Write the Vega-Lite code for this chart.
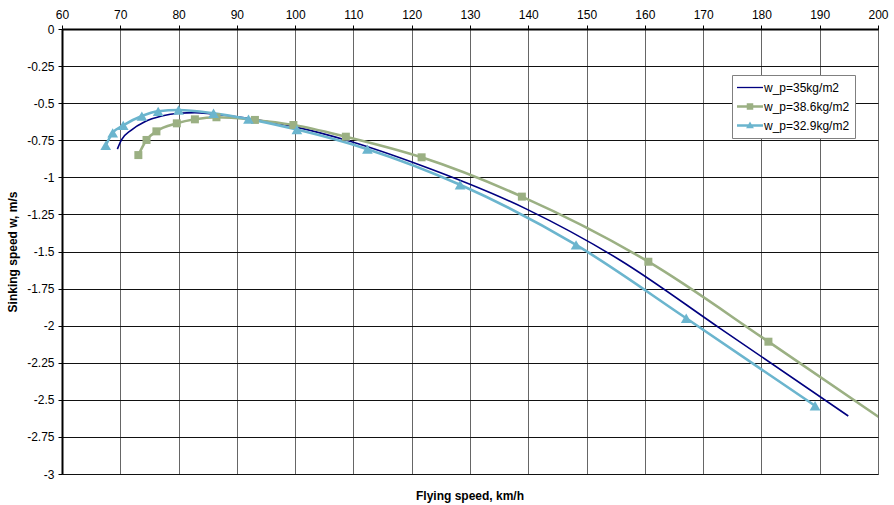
{
  "$schema": "https://vega.github.io/schema/vega-lite/v6.json",
  "width": 816,
  "height": 445,
  "autosize": {"type": "none"},
  "padding": {"left": 62, "top": 29, "right": 16, "bottom": 31},
  "background": "white",
  "config": {
    "font": "Liberation Sans",
    "view": {"stroke": "#888", "strokeWidth": 1}
  },
  "title": {
    "text": "Flying speed, km/h",
    "orient": "bottom",
    "anchor": "middle",
    "frame": "group",
    "baseline": "middle",
    "offset": 16,
    "fontSize": 12,
    "fontWeight": "bold",
    "font": "Liberation Sans",
    "color": "#000"
  },
  "data": {
    "values": [
      {"series": "w_p=35kg/m2", "speed": 69.5, "sink": -0.81},
      {"series": "w_p=35kg/m2", "speed": 70.2, "sink": -0.748},
      {"series": "w_p=35kg/m2", "speed": 71.9, "sink": -0.681},
      {"series": "w_p=35kg/m2", "speed": 74.2, "sink": -0.625},
      {"series": "w_p=35kg/m2", "speed": 77.1, "sink": -0.587},
      {"series": "w_p=35kg/m2", "speed": 80, "sink": -0.568},
      {"series": "w_p=35kg/m2", "speed": 82.8, "sink": -0.564},
      {"series": "w_p=35kg/m2", "speed": 85.7, "sink": -0.573},
      {"series": "w_p=35kg/m2", "speed": 90, "sink": -0.592},
      {"series": "w_p=35kg/m2", "speed": 95, "sink": -0.622},
      {"series": "w_p=35kg/m2", "speed": 100, "sink": -0.66},
      {"series": "w_p=35kg/m2", "speed": 109.4, "sink": -0.757},
      {"series": "w_p=35kg/m2", "speed": 121.4, "sink": -0.917},
      {"series": "w_p=35kg/m2", "speed": 139.8, "sink": -1.216},
      {"series": "w_p=35kg/m2", "speed": 155.7, "sink": -1.557},
      {"series": "w_p=35kg/m2", "speed": 172.9, "sink": -2.018},
      {"series": "w_p=35kg/m2", "speed": 194.9, "sink": -2.609},
      {"series": "w_p=38.6kg/m2", "speed": 73.1, "sink": -0.85},
      {"series": "w_p=38.6kg/m2", "speed": 74.5, "sink": -0.748},
      {"series": "w_p=38.6kg/m2", "speed": 76.2, "sink": -0.69},
      {"series": "w_p=38.6kg/m2", "speed": 79.7, "sink": -0.636},
      {"series": "w_p=38.6kg/m2", "speed": 82.8, "sink": -0.609},
      {"series": "w_p=38.6kg/m2", "speed": 86.5, "sink": -0.595},
      {"series": "w_p=38.6kg/m2", "speed": 93.1, "sink": -0.613},
      {"series": "w_p=38.6kg/m2", "speed": 99.7, "sink": -0.647},
      {"series": "w_p=38.6kg/m2", "speed": 108.7, "sink": -0.726},
      {"series": "w_p=38.6kg/m2", "speed": 121.7, "sink": -0.865},
      {"series": "w_p=38.6kg/m2", "speed": 138.9, "sink": -1.13},
      {"series": "w_p=38.6kg/m2", "speed": 160.6, "sink": -1.569},
      {"series": "w_p=38.6kg/m2", "speed": 181.2, "sink": -2.108},
      {"series": "w_p=38.6kg/m2", "speed": 204, "sink": -2.72},
      {"series": "w_p=32.9kg/m2", "speed": 67.5, "sink": -0.785},
      {"series": "w_p=32.9kg/m2", "speed": 68.7, "sink": -0.7},
      {"series": "w_p=32.9kg/m2", "speed": 70.5, "sink": -0.65},
      {"series": "w_p=32.9kg/m2", "speed": 73.7, "sink": -0.587},
      {"series": "w_p=32.9kg/m2", "speed": 76.5, "sink": -0.555},
      {"series": "w_p=32.9kg/m2", "speed": 80, "sink": -0.546},
      {"series": "w_p=32.9kg/m2", "speed": 86, "sink": -0.568},
      {"series": "w_p=32.9kg/m2", "speed": 92, "sink": -0.607},
      {"series": "w_p=32.9kg/m2", "speed": 100.3, "sink": -0.678},
      {"series": "w_p=32.9kg/m2", "speed": 112.4, "sink": -0.81},
      {"series": "w_p=32.9kg/m2", "speed": 128.3, "sink": -1.05},
      {"series": "w_p=32.9kg/m2", "speed": 148.2, "sink": -1.456},
      {"series": "w_p=32.9kg/m2", "speed": 167.1, "sink": -1.95},
      {"series": "w_p=32.9kg/m2", "speed": 189.2, "sink": -2.54}
    ]
  },
  "encoding": {
    "x": {
      "field": "speed",
      "type": "quantitative",
      "scale": {"domain": [60, 200], "nice": false, "zero": false},
      "axis": {
        "orient": "top",
        "values": [60, 70, 80, 90, 100, 110, 120, 130, 140, 150, 160, 170, 180, 190, 200],
        "title": null,
        "grid": true,
        "gridColor": "#666",
        "gridWidth": 1,
        "domainColor": "#000",
        "domainWidth": 2,
        "tickColor": "#000",
        "tickSize": 4,
        "labelPadding": 4,
        "labelFontSize": 12,
        "labelFont": "Liberation Sans",
        "labelColor": "#000",
        "labelFlush": false,
        "labelOverlap": false,
        "labelExpr": "'' + datum.value"
      }
    },
    "y": {
      "field": "sink",
      "type": "quantitative",
      "scale": {"domain": [-3, 0], "nice": false, "zero": false},
      "axis": {
        "values": [0, -0.25, -0.5, -0.75, -1, -1.25, -1.5, -1.75, -2, -2.25, -2.5, -2.75, -3],
        "title": "Sinking speed w, m/s",
        "titleFontSize": 12,
        "titleFontWeight": "bold",
        "titleFont": "Liberation Sans",
        "titleColor": "#000",
        "titlePadding": 7,
        "grid": true,
        "gridColor": "#111",
        "gridWidth": 1,
        "domainColor": "#000",
        "domainWidth": 2,
        "tickColor": "#000",
        "tickSize": 4,
        "labelPadding": 4,
        "labelFontSize": 12,
        "labelFont": "Liberation Sans",
        "labelColor": "#000",
        "labelFlush": false,
        "labelOverlap": false,
        "labelExpr": "'' + datum.value"
      }
    },
    "color": {
      "field": "series",
      "type": "nominal",
      "scale": {
        "domain": ["w_p=35kg/m2", "w_p=38.6kg/m2", "w_p=32.9kg/m2"],
        "range": ["#000080", "#9BB083", "#6BB5CE"]
      },
      "legend": {
        "title": null,
        "orient": "none",
        "legendX": 670,
        "legendY": 46,
        "direction": "vertical",
        "strokeColor": "#808080",
        "fillColor": "white",
        "padding": 5,
        "labelFontSize": 12,
        "labelFont": "Liberation Sans",
        "labelColor": "#000",
        "labelOffset": 1,
        "symbolSize": 676,
        "clipHeight": 15,
        "rowPadding": 4,
        "encode": {
          "symbols": {
            "update": {
              "shape": {"signal": "datum.value === 'w_p=35kg/m2' ? 'M-1,-0.05H1V0.05H-1Z' : datum.value === 'w_p=38.6kg/m2' ? 'M-1,-0.09H1V0.09H-1Z M-0.25,-0.25H0.25V0.25H-0.25Z' : 'M-1,-0.09H1V0.09H-1Z M0,-0.3L0.3,0.22L-0.3,0.22Z'"},
              "fill": {"scale": "color", "field": "value"},
              "fillOpacity": {"value": 1},
              "opacity": {"value": 1},
              "strokeWidth": {"value": 0},
              "size": {"value": 676}
            }
          }
        }
      }
    }
  },
  "layer": [
    {
      "transform": [{"filter": "datum.series === 'w_p=35kg/m2'"}],
      "mark": {"type": "line", "interpolate": "monotone", "clip": true, "strokeWidth": 1.6}
    },
    {
      "transform": [{"filter": "datum.series !== 'w_p=35kg/m2'"}],
      "mark": {"type": "line", "interpolate": "monotone", "clip": true, "strokeWidth": 2.6}
    },
    {
      "transform": [{"filter": "datum.series !== 'w_p=35kg/m2'"}],
      "mark": {"type": "point", "filled": true, "opacity": 1, "clip": true},
      "encoding": {
        "shape": {
          "field": "series",
          "type": "nominal",
          "scale": {"domain": ["w_p=38.6kg/m2", "w_p=32.9kg/m2"], "range": ["square", "triangle-up"]},
          "legend": null
        },
        "size": {"condition": {"test": "datum.series === 'w_p=32.9kg/m2'", "value": 115}, "value": 64}
      }
    }
  ]
}
